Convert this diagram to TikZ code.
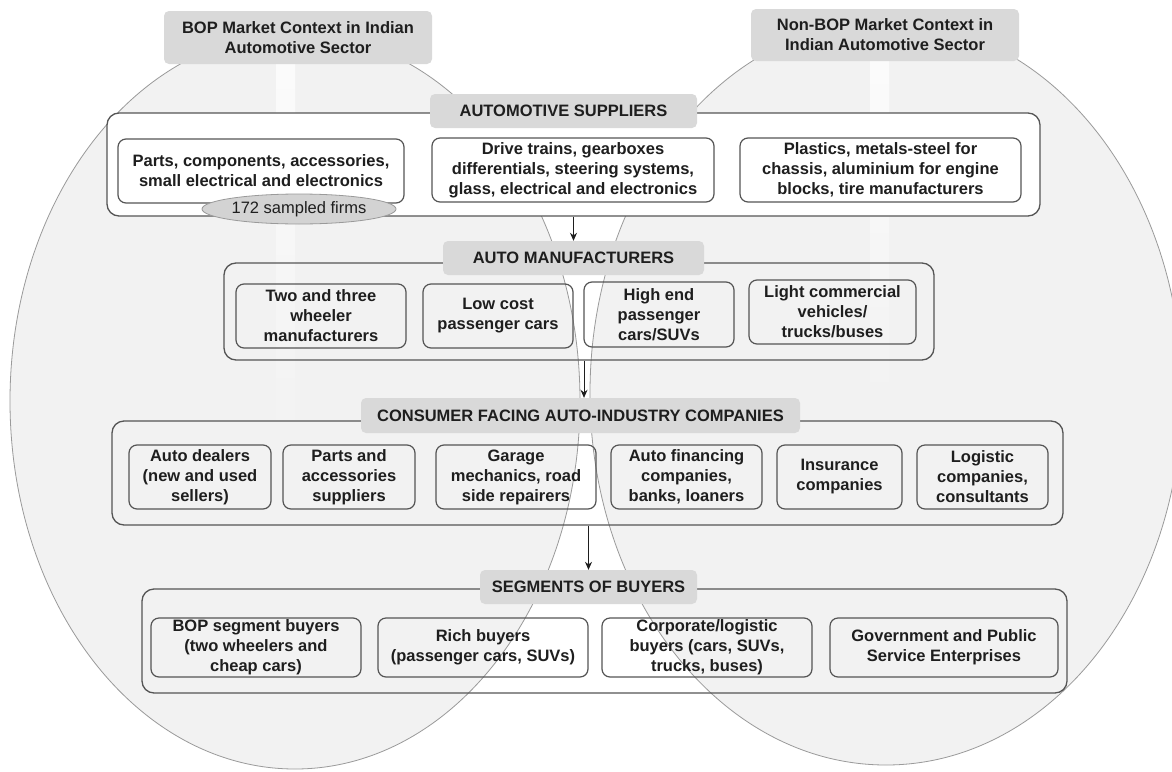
\documentclass[tikz,border=0pt]{standalone}
\usepackage{fontspec}
\setmainfont{Liberation Sans}
\usetikzlibrary{arrows.meta,shapes.geometric}
\definecolor{ellfill}{HTML}{F2F2F2}
\definecolor{elldraw}{HTML}{9A9A9A}
\definecolor{hdrfill}{HTML}{D9D9D9}
\definecolor{boxdraw}{HTML}{555555}
\definecolor{txt}{HTML}{1E1E1E}
\definecolor{firmfill}{HTML}{D3D3D3}
\tikzset{
  lbl/.style={font=\fontsize{16.5}{20}\selectfont\bfseries, text=txt, align=center, inner sep=0pt},
  hdr/.style={lbl, fill=hdrfill, rounded corners=5pt},
  cont/.style={draw=boxdraw, line width=1.3pt, rounded corners=12pt, inner sep=0pt},
  itembox/.style={lbl, draw=boxdraw, line width=1.2pt, rounded corners=8pt},
  arr/.style={draw=txt, line width=0.8pt, -{Stealth[length=8pt,width=7pt]}},
  band/.style={top color=white!70!ellfill, bottom color=ellfill, draw=none},
}
\begin{document}
\begin{tikzpicture}[x=1pt,y=-1pt]
\useasboundingbox (0,0) rectangle (1172,771);
\fill[white] (0,0) rectangle (1172,771);
% market context ellipses
\path[fill=ellfill, draw=elldraw, line width=0.8pt] (295,401) ellipse [x radius=285, y radius=368];
\path[fill=ellfill, draw=elldraw, line width=0.8pt] (886,393) ellipse [x radius=296, y radius=372];
% light vertical bands
\shade[band] (276,64) rectangle (295,440);
\shade[band] (870,61) rectangle (889,400);
% containers
\node[cont, fill=white, minimum width=933pt, minimum height=103pt] (supc) at (573.5,164.5) {};
\node[cont, minimum width=710pt, minimum height=97pt] (mfrc) at (579,311.5) {};
\node[cont, minimum width=951pt, minimum height=104pt] (conc) at (587.5,473) {};
\node[cont, minimum width=925pt, minimum height=104pt] (segc) at (604.5,641) {};
% suppliers
\node[itembox, minimum width=286pt, minimum height=64pt] (s1) at (261,171) {Parts, components, accessories,\\small electrical and electronics};
\node[itembox, minimum width=282pt, minimum height=64pt] (s2) at (573,170) {Drive trains, gearboxes\\differentials, steering systems,\\glass, electrical and electronics};
\node[itembox, minimum width=281pt, minimum height=64pt] (s3) at (880.5,170) {Plastics, metals-steel for\\chassis, aluminium for engine\\blocks, tire manufacturers};
\node[draw=elldraw, fill=firmfill, line width=0.8pt, ellipse, minimum width=194pt, minimum height=30pt, inner sep=0pt,
      font=\fontsize{16.5}{20}\selectfont, text=txt] (firms) at (299,209) {172 sampled firms};
% manufacturers
\node[itembox, minimum width=170pt, minimum height=64pt] (m1) at (321,316) {Two and three\\wheeler\\manufacturers};
\node[itembox, minimum width=150pt, minimum height=64pt] (m2) at (498,316) {Low cost\\passenger cars};
\node[itembox, minimum width=150pt, minimum height=65pt] (m3) at (659,314.5) {High end\\passenger\\cars/SUVs};
\node[itembox, minimum width=167pt, minimum height=64pt] (m4) at (832.5,312) {Light commercial\\vehicles/\\trucks/buses};
% consumer facing
\node[itembox, minimum width=142pt, minimum height=64pt] (c1) at (200,477) {Auto dealers\\(new and used\\sellers)};
\node[itembox, minimum width=132pt, minimum height=64pt] (c2) at (349,477) {Parts and\\accessories\\suppliers};
\node[itembox, minimum width=160pt, minimum height=64pt] (c3) at (516,477) {Garage\\mechanics, road\\side repairers};
\node[itembox, minimum width=151pt, minimum height=64pt] (c4) at (686.5,477) {Auto financing\\companies,\\banks, loaners};
\node[itembox, minimum width=125pt, minimum height=64pt] (c5) at (839.5,477) {Insurance\\companies};
\node[itembox, minimum width=131pt, minimum height=64pt] (c6) at (982.5,477) {Logistic\\companies,\\consultants};
% buyers
\node[itembox, minimum width=210pt, minimum height=59pt] (b1) at (256,647.5) {BOP segment buyers\\(two wheelers and\\cheap cars)};
\node[itembox, minimum width=210pt, minimum height=59pt] (b2) at (483,647.5) {Rich buyers\\(passenger cars, SUVs)};
\node[itembox, minimum width=210pt, minimum height=59pt] (b3) at (707,647.5) {Corporate/logistic\\buyers (cars, SUVs,\\trucks, buses)};
\node[itembox, minimum width=228pt, minimum height=59pt] (b4) at (944,647.5) {Government and Public\\Service Enterprises};
% headers
\node[hdr, minimum width=268pt, minimum height=53pt] (boph) at (298,37.5) {BOP Market Context in Indian\\Automotive Sector};
\node[hdr, minimum width=268pt, minimum height=52pt] (nbph) at (885,35) {Non-BOP Market Context in\\Indian Automotive Sector};
\node[hdr, minimum width=267pt, minimum height=34pt] (suph) at (563.5,111) {AUTOMOTIVE SUPPLIERS};
\node[hdr, minimum width=261pt, minimum height=34pt] (mfrh) at (573.5,258) {AUTO MANUFACTURERS};
\node[hdr, minimum width=439pt, minimum height=35pt] (conh) at (580.5,415.5) {CONSUMER FACING AUTO-INDUSTRY COMPANIES};
\node[hdr, minimum width=217pt, minimum height=34pt] (segh) at (588.5,587) {SEGMENTS OF BUYERS};
% arrows
\draw[arr] (supc.south -| mfrh.north) -- (mfrh.north);
\draw[arr] ([xshift=3.5pt]mfrc.south -| conh.north) -- ([xshift=3.5pt]conh.north);
\draw[arr] (conc.south -| segh.north) -- (segh.north);
\end{tikzpicture}
\end{document}
